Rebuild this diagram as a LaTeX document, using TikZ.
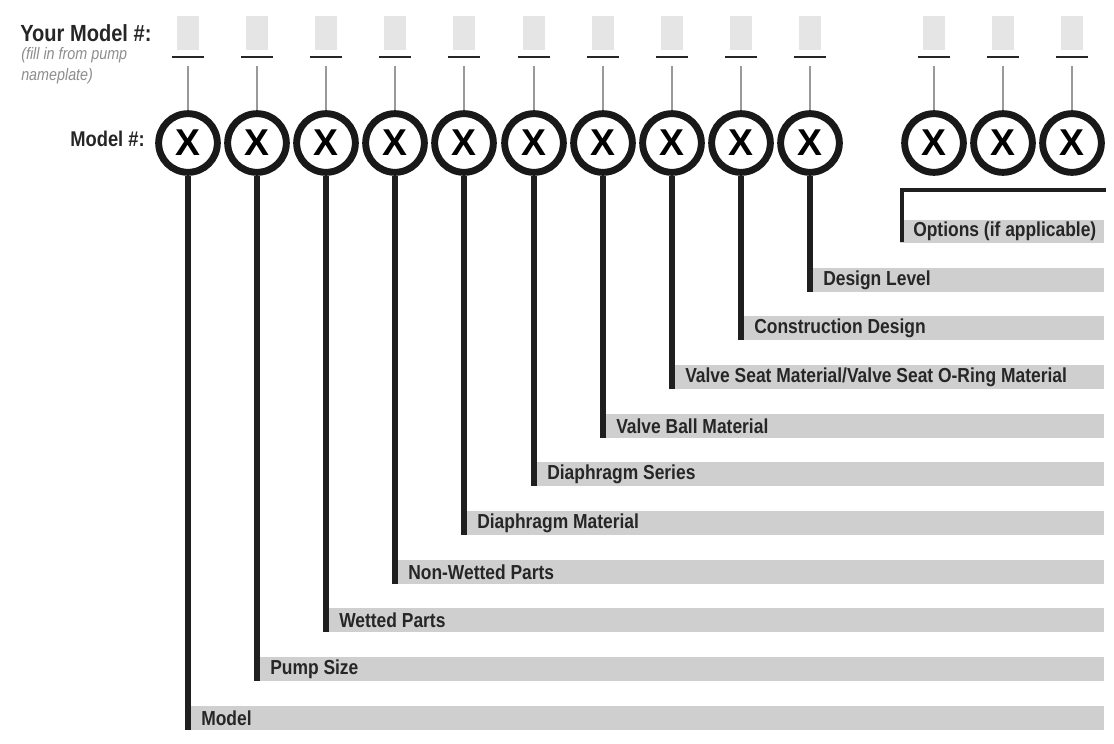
\documentclass[tikz,border=0pt]{standalone}
\usepackage{fontspec}
\setmainfont{Liberation Sans}[FakeStretch=0.86]
\newfontfamily\xfnt{Liberation Sans}
\begin{document}
\begin{tikzpicture}[x=0.75pt,y=-0.75pt,
  lab/.style={anchor=west,inner sep=0pt,font=\bfseries\fontsize{15.2}{17}\selectfont,text=black!85},
  bar/.style={fill=black!19,draw=none},
  stem/.style={line width=3.8pt,draw=black!88},
  ring/.style={circle,draw=black!90,line width=5.2pt,minimum size=44pt,inner sep=0pt,font=\xfnt\bfseries\fontsize{28}{28}\selectfont},
  slot/.style={fill=black!10,draw=none},
  thin/.style={draw=black!40,line width=0.8pt}]
\useasboundingbox (0,0) rectangle (1114,743);
\node[anchor=west,inner sep=0pt,font=\bfseries\fontsize{17.5}{19}\selectfont,text=black!85] (ym) at (20,33) {Your Model \#:};
\node[anchor=north west,inner sep=0pt,align=left,font=\itshape\fontsize{12.5}{15.5}\selectfont,text=black!45] (fill) at (21,47) {(fill in from pump\\nameplate)};
\node[anchor=east,inner sep=0pt,font=\bfseries\fontsize{16}{18}\selectfont,text=black!85] (mn) at (145,139) {Model \#:};
\foreach \i/\x in {1/188,2/257,3/326,4/395,5/464,6/534,7/603,8/672,9/741,10/810,11/934,12/1003,13/1072}{
  \fill[slot] (\x-11,16) rectangle (\x+11,50);
  \draw[line width=1.3pt,black!85] (\x-16,57) -- (\x+16,57);
  \coordinate (t\i) at (\x,66);
  \node[ring] (c\i) at (\x,143) {X};
  \draw[thin] (t\i) -- (c\i.north);
}
\foreach \i/\x/\y/\t in {1/188/718/Model,2/257/669/Pump Size,3/326/620/Wetted Parts,4/395/572/Non-Wetted Parts,5/464/523/Diaphragm Material,6/534/474/Diaphragm Series,7/603/426/Valve Ball Material,8/672/377/{Valve Seat Material/Valve Seat O-Ring Material},9/741/328/Construction Design,10/810/280/Design Level}{
  \fill[bar] (\x,\y-12) rectangle (1104,\y+12);
  \coordinate (e\i) at (\x,\y+12);
  \draw[stem] (c\i.south) -- (e\i);
  \node[lab] (l\i) at (\x+13,\y) {\t};
}
\fill[bar] (900,220) rectangle (1104,243);
\coordinate (oa) at (1106,190);
\coordinate (ob) at (902,190);
\coordinate (oc) at (902,242);
\draw[line width=3pt,black!88] (oa) -- (ob) -- (oc);
\node[lab] (lo) at (913,231) {Options (if applicable)};
\end{tikzpicture}
\end{document}
